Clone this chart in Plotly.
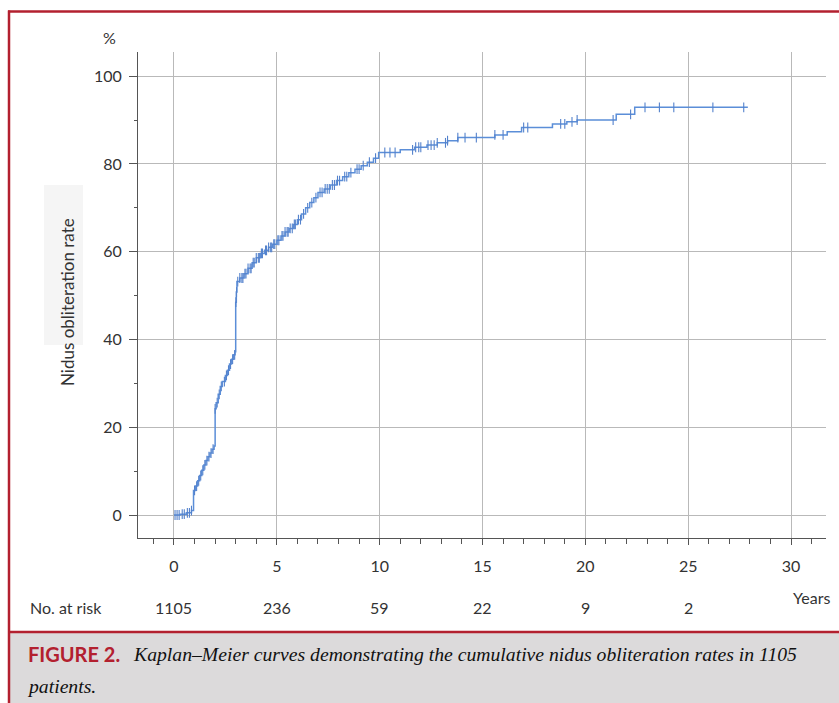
import plotly.graph_objects as go

# ---- data ----
step_times = [0, 0.3, 0.6, 0.85, 0.95, 1.05, 1.15, 1.25, 1.35, 1.45, 1.55, 1.65, 1.75, 1.85,
              1.95, 2.0, 2.05, 2.15, 2.25, 2.35, 2.5, 2.6, 2.7, 2.8, 2.9, 2.97, 3.0, 3.03, 3.06,
              3.2, 3.4, 3.6, 3.8, 4.0, 4.2, 4.4, 4.6, 4.8, 5.0, 5.2, 5.4, 5.6, 5.8, 6.0, 6.2,
              6.4, 6.6, 6.8, 7.0, 7.3, 7.6, 7.9, 8.2, 8.5, 8.8, 9.1, 9.4, 9.7, 9.95, 11.0,
              11.7, 12.3, 12.8, 13.3, 13.8, 15.6, 16.2, 16.9, 18.4, 19.1, 19.6, 21.5, 22.4, 27.9]
step_values = [0, 0.2, 0.5, 1.0, 5.6, 6.6, 7.8, 9.0, 10.2, 11.4, 12.4, 13.3, 14.1, 15.0,
               15.7, 24.2, 25.6, 27.5, 29.3, 30.4, 31.8, 33.0, 34.4, 35.5, 36.5, 37.2, 48.5, 50.8, 53.2,
               54.0, 55.0, 56.2, 57.5, 58.6, 59.6, 60.3, 61.0, 61.7, 62.6, 63.6, 64.5, 65.3, 66.2, 67.3, 68.6,
               70.0, 71.2, 72.3, 73.5, 74.3, 75.2, 76.2, 77.1, 78.0, 78.8, 79.6, 80.4, 81.3, 82.6, 83.2,
               83.8, 84.3, 84.8, 85.3, 86.0, 86.6, 87.3, 88.3, 89.1, 89.6, 90.0, 91.3, 92.9, 92.9]

censor_times = [0.05, 0.15, 0.25, 0.4, 0.5, 0.65, 0.75, 0.85, 1.0, 1.1, 1.2, 1.3, 1.4, 1.5, 1.6,
                1.7, 1.8, 1.9, 2.0, 2.1, 2.2, 2.3, 2.45, 2.55, 2.65, 2.75, 2.85, 2.95, 3.01, 3.04,
                3.1, 3.2, 3.3, 3.35, 3.45, 3.5, 3.6, 3.7, 3.75, 3.85, 3.9, 4.0, 4.1, 4.15, 4.25,
                4.3, 4.45, 4.5, 4.6, 4.7, 4.75, 4.85, 4.9, 5.05, 5.1, 5.25, 5.3, 5.4, 5.5, 5.55,
                5.65, 5.75, 5.85, 5.9, 6.05, 6.15, 6.3, 6.5, 6.7, 6.9, 7.1, 7.2, 7.35, 7.45, 7.55,
                7.7, 7.8, 7.95, 8.05, 8.3, 8.4, 8.6, 8.9, 9.0, 9.2, 9.5, 9.8,
                10.25, 10.5, 10.75, 11.6, 11.75, 11.9, 12.0, 12.35, 12.5, 12.65, 12.8, 13.2, 13.3,
                13.8, 14.15, 14.7, 15.6, 16.0, 17.0, 17.2, 18.8, 19.0, 19.35, 19.6, 21.35, 22.2,
                22.9, 23.6, 24.3, 26.2, 27.7]

risk_times = [0, 5, 10, 15, 20, 25]
risk_counts = [1105, 236, 59, 22, 9, 2]

x_ticks = [0, 5, 10, 15, 20, 25, 30]
y_ticks = [0, 20, 40, 60, 80, 100]


def km_value(t):
    v = step_values[0]
    for st, sv in zip(step_times, step_values):
        if st <= t:
            v = sv
        else:
            break
    return v


censor_values = [km_value(t) for t in censor_times]

LINE = "#5b8ed8"
MARK = "#5482cc"
GRID = "#b9b9b9"
AXIS = "#555555"
TXT = "#333333"
RED = "#b3202f"
FONT = "Lato"
FS = 16

fig = go.Figure()
fig.add_trace(go.Scatter(x=step_times, y=step_values, mode="lines",
                         line=dict(color=LINE, width=1.5, shape="hv"),
                         hoverinfo="skip", showlegend=False))
fig.add_trace(go.Scatter(x=censor_times, y=censor_values, mode="markers",
                         marker=dict(symbol="line-ns", size=7,
                                     line=dict(color=MARK, width=1.1)),
                         showlegend=False))

# pixel -> paper helpers (plot area: x 138..826, y 52..538)
L, R, T, B = 138, 13, 52, 165
W, H = 839, 703
PW, PH = W - L - R, H - T - B


def px(xp):
    return (xp - L) / PW


def py(yp):
    return (H - B - yp) / PH


annotations = []
for t, n in zip(risk_times, risk_counts):
    annotations.append(dict(x=t, y=py(607), xref="x", yref="paper", text=str(n),
                            showarrow=False, font=dict(family=FONT, size=FS, color=TXT),
                            xanchor="center", yanchor="middle"))
annotations += [
    dict(x=px(66), y=py(607), xref="paper", yref="paper", text="No. at risk",
         showarrow=False, font=dict(family=FONT, size=FS, color=TXT),
         xanchor="center", yanchor="middle"),
    dict(x=px(811), y=py(597), xref="paper", yref="paper", text="Years",
         showarrow=False, font=dict(family=FONT, size=FS, color=TXT),
         xanchor="center", yanchor="middle"),
    dict(x=px(109), y=py(37), xref="paper", yref="paper", text="%",
         showarrow=False, font=dict(family=FONT, size=FS, color=TXT),
         xanchor="center", yanchor="middle"),
    dict(x=px(67), y=py(302), xref="paper", yref="paper", text="Nidus obliteration rate",
         textangle=-90, showarrow=False, font=dict(family=FONT, size=17, color=TXT),
         xanchor="center", yanchor="middle"),
    dict(x=px(26), y=py(654), xref="paper", yref="paper", text="<b>FIGURE 2.</b>",
         showarrow=False, font=dict(family=FONT, size=20, color=RED),
         xanchor="left", yanchor="middle"),
    dict(x=px(131), y=py(654), xref="paper", yref="paper",
         text="<i>Kaplan–Meier curves demonstrating the cumulative nidus obliteration rates in 1105</i>",
         showarrow=False, font=dict(family="Liberation Serif", size=19.7, color="#111111"),
         xanchor="left", yanchor="middle"),
    dict(x=px(25), y=py(686), xref="paper", yref="paper", text="<i>patients.</i>",
         showarrow=False, font=dict(family="Liberation Serif", size=19.7, color="#111111"),
         xanchor="left", yanchor="middle"),
]

shapes = [
    dict(type="rect", xref="paper", yref="paper", x0=px(9), x1=px(845), y0=py(633), y1=py(710),
         fillcolor="#dcdadb", line=dict(width=0), layer="below"),
    dict(type="line", xref="paper", yref="paper", x0=px(9), x1=px(845), y0=py(632), y1=py(632),
         line=dict(color=RED, width=2.5)),
    dict(type="line", xref="paper", yref="paper", x0=px(8), x1=px(845), y0=py(11.5), y1=py(11.5),
         line=dict(color=RED, width=2.5)),
    dict(type="line", xref="paper", yref="paper", x0=px(9), x1=px(9), y0=py(10.5), y1=py(710),
         line=dict(color=RED, width=2.5)),
    dict(type="rect", xref="paper", yref="paper", x0=px(44), x1=px(83), y0=py(185), y1=py(345),
         fillcolor="#f5f5f5", line=dict(width=0), layer="below"),
]

fig.update_layout(
    width=W, height=H,
    margin=dict(l=L, r=R, t=T, b=B, pad=0),
    paper_bgcolor="white", plot_bgcolor="white",
    showlegend=False,
    annotations=annotations,
    shapes=shapes,
    font=dict(family=FONT, size=FS, color=TXT),
)
fig.update_xaxes(
    range=[-1.75, 31.7], tickmode="array", tickvals=x_ticks,
    ticktext=[str(v) for v in x_ticks],
    showgrid=True, gridcolor=GRID, gridwidth=1.3,
    zeroline=False, showline=True, linecolor=AXIS, linewidth=1,
    ticks="outside", ticklen=6, tickcolor=AXIS, ticklabelstandoff=8,
    minor=dict(dtick=1, tick0=0, ticks="outside", ticklen=5, tickcolor=AXIS, showgrid=False),
    tickfont=dict(family=FONT, size=FS, color=TXT),
)
fig.update_yaxes(
    range=[-5.24, 105.5], tickmode="array", tickvals=y_ticks,
    ticktext=[str(v) for v in y_ticks],
    showgrid=True, gridcolor=GRID, gridwidth=1.3,
    zeroline=False, showline=True, linecolor=AXIS, linewidth=1,
    ticks="outside", ticklen=8, tickcolor=AXIS, ticklabelstandoff=4,
    minor=dict(dtick=10, tick0=0, ticks="outside", ticklen=3, tickcolor=AXIS, showgrid=False),
    tickfont=dict(family=FONT, size=FS, color=TXT),
)

fig.write_html("out.html", config={"displayModeBar": False},
               post_script="document.body.style.margin='0px';document.body.style.overflow='hidden';")
